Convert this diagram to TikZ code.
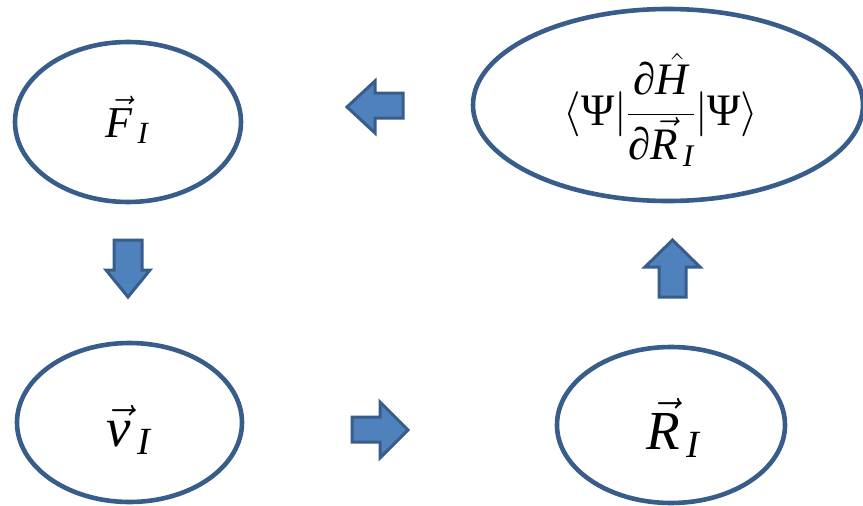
\documentclass[tikz,border=0pt]{standalone}
\usepackage{fix-cm}
\usepackage{amsmath}
\usepackage[no-math]{fontspec}
\setmainfont{Liberation Serif}
\usetikzlibrary{shapes.geometric}
\definecolor{edgeblue}{HTML}{385D8A}
\definecolor{fillblue}{HTML}{4F81BD}
\newcommand{\itl}[1]{\textit{#1}}
\tikzset{
  bubble/.style={ellipse, draw=edgeblue, line width=4.6pt, inner sep=0pt, fill=white},
  blockarrow/.style={draw=edgeblue, fill=fillblue, line width=3pt, line join=miter},
  eqtext/.style={inner sep=0pt}
}
\begin{document}
\begin{tikzpicture}[x=1pt,y=-1pt]
\useasboundingbox (0,0) rectangle (863,506);
\fill[white] (0,0) rectangle (863,506);
% ellipses
\node[bubble, minimum width=226pt, minimum height=160pt] (F) at (128,122) {};
\node[bubble, minimum width=390pt, minimum height=192pt] (H) at (668,105) {};
\node[bubble, minimum width=225pt, minimum height=159pt] (V) at (129.5,422.5) {};
\node[bubble, minimum width=228pt, minimum height=156pt] (R) at (671,425) {};
% texts
\node[eqtext, font=\fontsize{45}{54}\selectfont] (Ht) at (661,110) {$\langle\textup{Ψ}|\displaystyle\frac{\textup{∂}\skew{4}{\hat}{\itl{H}}}{\textup{∂}\skew{2}{\vec}{\itl{R}}_{\,\itl{I}}}|\textup{Ψ}\rangle$};
\node[eqtext, font=\fontsize{55}{62}\selectfont] (Vt) at (129,430) {$\skew{1}{\vec}{\itl{v}}_{\,\itl{I}}$};
\node[eqtext, font=\fontsize{55}{64}\selectfont] (Rt) at (673,428) {$\skew{2}{\vec}{\itl{R}}_{\,\itl{I}}$};
\node[eqtext, font=\fontsize{44}{52}\selectfont] (Ft) at (127,120) {$\skew{2}{\vec}{\itl{F}}_{\,\itl{I}}$};
% block arrows
\draw[blockarrow] (403,93) -- (375,93) -- (375,81) -- (347,107) -- (375,133) -- (375,118) -- (403,118) -- cycle;
\draw[blockarrow] (114,240) -- (142,240) -- (142,270) -- (150,270) -- (128,297) -- (106,270) -- (114,270) -- cycle;
\draw[blockarrow] (352,417) -- (380,417) -- (380,402) -- (408,430) -- (380,458) -- (380,442) -- (352,442) -- cycle;
\draw[blockarrow] (659,297) -- (659,267) -- (645,267) -- (672.5,240) -- (700,267) -- (686,267) -- (686,297) -- cycle;
\end{tikzpicture}
\end{document}
